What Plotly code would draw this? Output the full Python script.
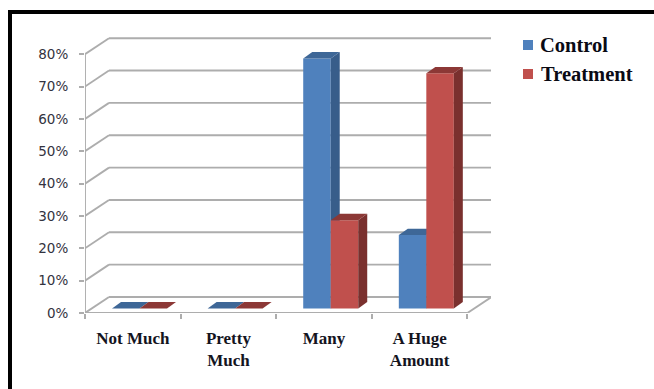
import plotly.graph_objects as go

# Survey responses, percent of each group
categories = ["Not Much", "Pretty<br>Much", "Many", "A Huge<br>Amount"]
control = [0, 0, 77.3, 22.7]
treatment = [0, 0, 27.3, 72.7]
y_ticks = [0, 10, 20, 30, 40, 50, 60, 70, 80]
y_tick_labels = ["0%", "10%", "20%", "30%", "40%", "50%", "60%", "70%", "80%"]

WIDTH, HEIGHT = 654, 389
LEFT, RIGHT, TOP, BOTTOM = 85, 491, 37, 313
SLOT_PX, PCT_PX = 95.6, 3.235

# Oblique projection: how far the back wall sits from the front plane, in data units
WALL_DX, WALL_DY = 24 / SLOT_PX, 16 / PCT_PX
BAR_OFFSET = 0.28     # bars start this fraction of the way into the depth
BAR_DX, BAR_DY = 9 / SLOT_PX, 6.4 / PCT_PX
BAR_W = 27.5 / SLOT_PX
GRID = "#ADADAD"
SERIF = "Liberation Serif"

x_max = (RIGHT - LEFT) / SLOT_PX
y_max = (BOTTOM - TOP) / PCT_PX
n = len(categories)


def paper_x(px):
    return (px - LEFT) / (RIGHT - LEFT)


def paper_y(px):
    return (BOTTOM - px) / (BOTTOM - TOP)


def polygon(xs, ys, color, xa, ya):
    return go.Scatter(x=xs, y=ys, mode="lines", fill="toself", fillcolor=color,
                      line=dict(width=0), hoverinfo="skip", showlegend=False,
                      xaxis=xa, yaxis=ya)


def series(name, values, shift, front, side, top, xa, ya):
    """One clustered series: a real bar for the front face, polygons for depth."""
    x0 = BAR_OFFSET * WALL_DX
    y0 = BAR_OFFSET * WALL_DY
    centers = [i + 0.5 + x0 + shift * BAR_W for i in range(n)]
    out = [go.Bar(x=centers, y=values, base=y0, width=BAR_W, name=name,
                  marker=dict(color=front, line=dict(width=0)),
                  showlegend=False, xaxis=xa, yaxis=ya)]
    for c, v in zip(centers, values):
        l, r, t = c - BAR_W / 2, c + BAR_W / 2, y0 + v
        if v > 0:
            out.append(polygon([r, r + BAR_DX, r + BAR_DX, r, r],
                               [y0, y0 + BAR_DY, t + BAR_DY, t, y0], side, xa, ya))
        out.append(polygon([l, l + BAR_DX, r + BAR_DX, r, l],
                           [t, t + BAR_DY, t + BAR_DY, t, t], top, xa, ya))
    return out


fig = go.Figure()
for tr in series("Control", control, -0.5, "#4F81BD", "#385D8A", "#3E6797", "x", "y"):
    fig.add_trace(tr)
for tr in series("Treatment", treatment, 0.5, "#C0504D", "#7A302E", "#8C3836", "x2", "y2"):
    fig.add_trace(tr)

shapes = []


def grid_line(x0, y0, x1, y1):
    shapes.append(dict(type="line", xref="x", yref="y", x0=x0, y0=y0, x1=x1, y1=y1,
                       layer="below", line=dict(color=GRID, width=1.9)))


# Back wall gridlines with their slanted run to the front plane
for v in y_ticks:
    grid_line(0, v, WALL_DX, v + WALL_DY)
    grid_line(WALL_DX, v + WALL_DY, x_max, v + WALL_DY)
grid_line(0, 0, 0, y_ticks[-1])
grid_line(0, 0, n, 0)
grid_line(n, 0, n + WALL_DX, WALL_DY)

# Heavy frame along the top and left
for x0, y0, x1, y1 in [(8, 10, WIDTH, 14), (8, 10, 12, HEIGHT)]:
    shapes.append(dict(type="rect", xref="paper", yref="paper", x0=paper_x(x0), x1=paper_x(x1),
                       y0=paper_y(y0), y1=paper_y(y1), fillcolor="black", line=dict(width=0)))

# Legend
annotations = []
for name, color, row_y, text_x in [("Control", "#4F81BD", 45, 537.5), ("Treatment", "#C0504D", 74, 539)]:
    shapes.append(dict(type="rect", xref="paper", yref="paper", x0=paper_x(523), x1=paper_x(533),
                       y0=paper_y(row_y + 5), y1=paper_y(row_y - 5), fillcolor=color, line=dict(width=0)))
    annotations.append(dict(text=f"<b>{name}</b>", xref="paper", yref="paper", showarrow=False,
                            x=paper_x(text_x), y=paper_y(row_y), xanchor="left", yanchor="middle",
                            font=dict(family=SERIF, size=20.5, color="#0A0A14")))

x_axis = dict(range=[0, x_max], showgrid=False, zeroline=False, showline=False)
y_axis = dict(range=[0, y_max], showgrid=False, zeroline=False, showline=False)

fig.update_layout(
    width=WIDTH, height=HEIGHT,
    margin=dict(l=LEFT, r=WIDTH - RIGHT, t=TOP, b=HEIGHT - BOTTOM, autoexpand=False),
    paper_bgcolor="white", plot_bgcolor="white",
    barmode="overlay", showlegend=False,
    shapes=shapes, annotations=annotations,
    xaxis=dict(**x_axis,
               tickmode="array", tickvals=[i + 0.5 for i in range(n)], ticktext=[f"<b>{c}</b>" for c in categories],
               ticks="", ticklabelstandoff=13,
               tickfont=dict(family=SERIF, size=17, color="#14141E"),
               minor=dict(tickmode="array", tickvals=list(range(n + 1)), ticks="outside",
                          ticklen=5, tickwidth=1.5, tickcolor=GRID)),
    yaxis=dict(**y_axis,
               tickmode="array", tickvals=y_ticks, ticktext=y_tick_labels,
               ticks="outside", ticklen=5, tickwidth=1.5, tickcolor=GRID,
               ticklabelstandoff=8,
               tickfont=dict(family="DejaVu Sans", size=13.5, color="#333340")),
    xaxis2=dict(**x_axis, overlaying="x", matches="x", visible=False),
    yaxis2=dict(**y_axis, overlaying="y", matches="y", visible=False),
)

fig.write_html("out.html", config=dict(displayModeBar=False))
